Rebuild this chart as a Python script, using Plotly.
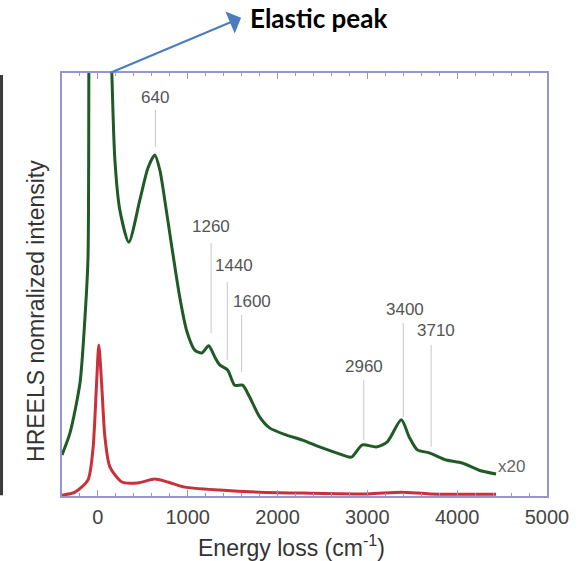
import plotly.graph_objects as go

# ---------------- data ----------------
green_x = [-400, -311, -200, -144, -111, -100, -80, 0, 100, 140, 155, 189, 244, 344,
           467, 556, 633, 689, 744, 822, 911, 989, 1078, 1156, 1233, 1300, 1356, 1444,
           1522, 1611, 1689, 1800, 1911, 2100, 2278, 2467, 2656, 2822, 2944, 3100,
           3222, 3378, 3467, 3556, 3689, 3878, 4056, 4244, 4433]
green_y = [0.097, 0.149, 0.267, 0.423, 0.56, 1.05, 1.6, 3.0, 1.6, 1.15, 1.0, 0.794, 0.676, 0.600,
           0.700, 0.775, 0.806, 0.771, 0.700, 0.590, 0.470, 0.390, 0.345, 0.338, 0.355, 0.329, 0.310, 0.298,
           0.262, 0.262, 0.234, 0.187, 0.161, 0.144, 0.132, 0.116, 0.102, 0.092, 0.121, 0.116,
           0.128, 0.180, 0.139, 0.109, 0.102, 0.085, 0.078, 0.061, 0.052]

red_x = [-400, -256, -111, -56, -15, 10, 41, 78, 133, 267, 444, 633, 778, 967, 1356, 1800,
         2278, 3000, 3378, 3700, 4433]
red_y = [0.002, 0.009, 0.038, 0.109, 0.267, 0.357, 0.267, 0.139, 0.069, 0.033, 0.031, 0.040,
         0.033, 0.021, 0.014, 0.009, 0.007, 0.005, 0.009, 0.005, 0.004]

peak_labels = [640, 1260, 1440, 1600, 2960, 3400, 3710]
line_top = [0.913, 0.598, 0.506, 0.428, 0.274, 0.409, 0.357]
line_bottom = [0.825, 0.385, 0.322, 0.293, 0.132, 0.187, 0.116]
label_y = [0.941, 0.636, 0.546, 0.459, 0.305, 0.440, 0.392]
label_shift = [0, 0, 7, 10, 0, 2, 5]

x_ticks = [0, 1000, 2000, 3000, 4000, 5000]
x_range = [-400, 5000]
y_range = [0, 1]

elastic_x, elastic_y = 133, 1.0
elastic_text_x, elastic_text_y = 1611, 1.132

frame_col = "#9696cc"
font_fam = "Liberation Sans, Arial, sans-serif"

fig = go.Figure()

# leader lines for peak labels
lx, ly = [], []
for p, t, b in zip(peak_labels, line_top, line_bottom):
    lx += [p, p, None]
    ly += [b, t, None]
fig.add_trace(go.Scatter(x=lx, y=ly, mode="lines",
                         line=dict(color="#c8c8c8", width=1), hoverinfo="skip"))

fig.add_trace(go.Scatter(x=red_x, y=red_y, mode="lines",
                         line=dict(color="#c8303c", width=3, shape="spline", smoothing=0.7)))
fig.add_trace(go.Scatter(x=green_x, y=green_y, mode="lines",
                         line=dict(color="#1f5a27", width=3, shape="spline", smoothing=0.7)))

for p, yv, s in zip(peak_labels, label_y, label_shift):
    fig.add_annotation(x=p, y=yv, xref="x", yref="y", text=str(p), showarrow=False,
                       xshift=s, font=dict(family=font_fam, size=17, color="#555555"))

fig.add_annotation(x=4600, y=0.069, xref="x", yref="y", text="x20", showarrow=False,
                   font=dict(family=font_fam, size=17, color="#666666"))

# elastic peak arrow + text
fig.add_annotation(x=elastic_x, y=elastic_y, xref="x", yref="y",
                   ax=elastic_text_x, ay=elastic_text_y, axref="x", ayref="y",
                   text="", showarrow=True, arrowside="end+start", arrowhead=0,
                   startarrowhead=1, startarrowsize=2.0, arrowwidth=2, arrowcolor="#4a7ebb")
fig.add_annotation(x=0.3835, y=1.130, xref="paper", yref="paper",
                   text="<b>Elastic peak</b>", showarrow=False, xanchor="left", yanchor="middle",
                   font=dict(family="Lato, Liberation Sans, sans-serif", size=26, color="#000000"))

# axis titles
fig.add_annotation(x=0.474, y=-0.118, xref="paper", yref="paper",
                   xanchor="center", yanchor="middle",
                   text="Energy loss (cm<sup>-1</sup>)", showarrow=False,
                   font=dict(family=font_fam, size=23, color="#333333"))
fig.add_annotation(x=-0.054, y=0.437, xref="paper", yref="paper", textangle=-90,
                   xanchor="center", yanchor="middle",
                   text="HREELS nomralized intensity", showarrow=False,
                   font=dict(family=font_fam, size=23, color="#333333"))

# dark bar at the left edge of the picture
fig.add_shape(type="rect", xref="paper", yref="paper", x0=-0.1278, x1=-0.1216,
              y0=0.002, y1=0.995, fillcolor="#3a3a3a", line=dict(width=0))

fig.update_layout(
    width=582, height=561,
    margin=dict(l=62, r=35, t=73, b=65),
    paper_bgcolor="white", plot_bgcolor="white",
    showlegend=False,
    xaxis=dict(range=x_range, tickvals=x_ticks, ticks="inside", ticklen=6, tickwidth=1,
               tickcolor=frame_col, showline=True, linecolor=frame_col, linewidth=1.5,
               mirror="allticks", showgrid=False, zeroline=False, ticklabelstandoff=2,
               tickfont=dict(family=font_fam, size=20, color="#444444"),
               minor=dict(dtick=200, ticks="inside", ticklen=3, tickcolor=frame_col)),
    yaxis=dict(range=y_range, showticklabels=False, ticks="", showline=True,
               linecolor=frame_col, linewidth=1.5, mirror=True, showgrid=False,
               zeroline=False),
)

fig.write_html("out.html")
